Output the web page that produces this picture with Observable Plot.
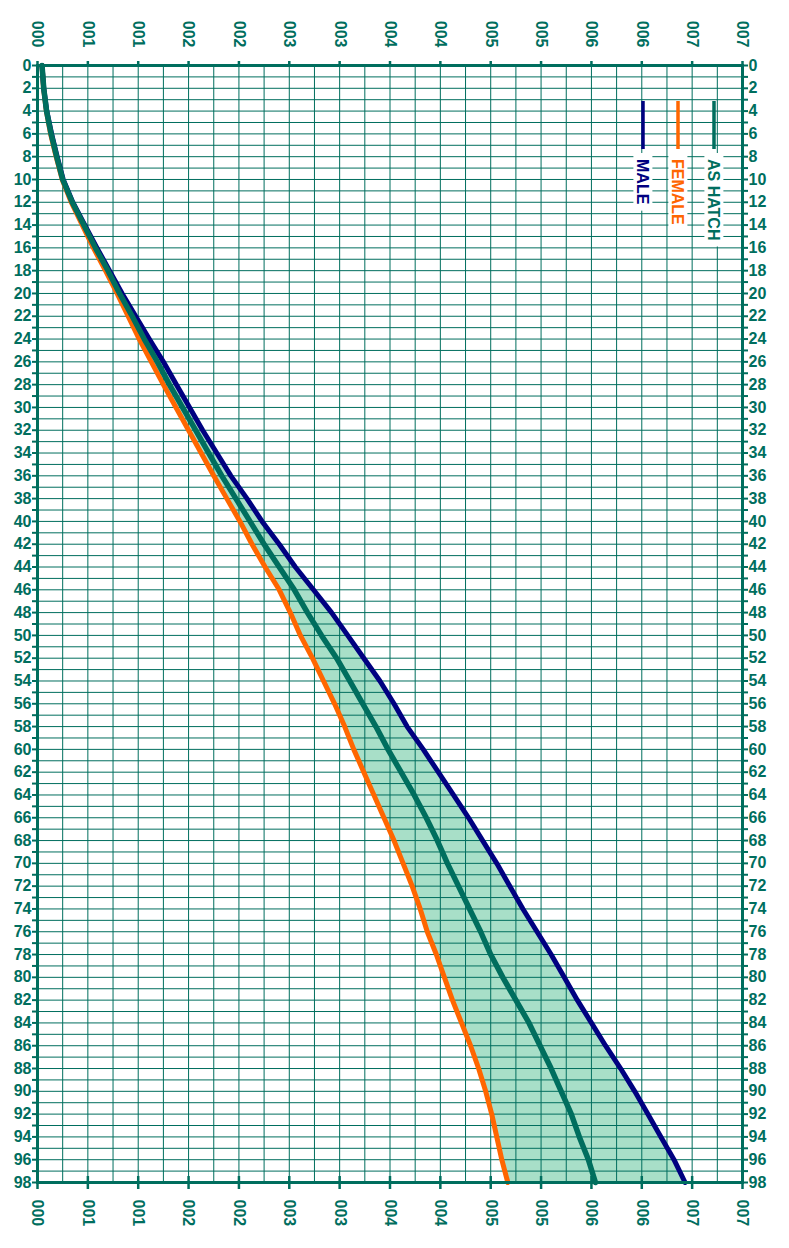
<!DOCTYPE html>
<html>
<head>
<meta charset="utf-8">
<script src="https://cdn.jsdelivr.net/npm/d3@7"></script>
<script src="https://cdn.jsdelivr.net/npm/@observablehq/plot@0.6"></script>
<style>
  html, body { margin: 0; padding: 0; background: #fff; }
  svg { display: block; }
</style>
</head>
<body>
<div id="chart"></div>
<script>
// Age in days
const days = [0,2,4,6,8,10,12,14,16,18,20,22,24,26,28,30,32,34,36,38,40,42,44,46,48,50,52,54,56,58,60,62,64,66,68,70,72,74,76,78,80,82,84,86,88,90,92,94,96,98];
// Weight curves
const asHatch = [0.045,0.062,0.09,0.135,0.19,0.25,0.345,0.46,0.575,0.70,0.815,0.94,1.06,1.19,1.31,1.44,1.57,1.70,1.83,1.97,2.11,2.25,2.40,2.55,2.68,2.82,2.97,3.10,3.23,3.36,3.48,3.61,3.74,3.86,3.97,4.07,4.18,4.29,4.40,4.50,4.62,4.75,4.88,4.99,5.10,5.20,5.30,5.38,5.47,5.54];
const female = [0.045,0.06,0.088,0.13,0.185,0.245,0.335,0.445,0.555,0.675,0.79,0.90,1.01,1.13,1.25,1.375,1.50,1.625,1.75,1.88,2.01,2.13,2.26,2.40,2.51,2.61,2.73,2.84,2.95,3.05,3.14,3.24,3.34,3.44,3.54,3.63,3.72,3.80,3.87,3.96,4.04,4.12,4.21,4.30,4.38,4.45,4.51,4.56,4.61,4.67];
const male = [0.045,0.062,0.092,0.14,0.195,0.255,0.35,0.47,0.59,0.715,0.84,0.975,1.11,1.25,1.38,1.51,1.64,1.78,1.92,2.08,2.23,2.40,2.56,2.74,2.92,3.08,3.24,3.40,3.54,3.67,3.83,3.98,4.13,4.28,4.42,4.56,4.69,4.82,4.96,5.10,5.23,5.36,5.50,5.64,5.79,5.93,6.06,6.19,6.32,6.43];

// Tick values and labels
const xTicks = [0,0.5,1,1.5,2,2.5,3,3.5,4,4.5,5,5.5,6,6.5,7];
const xTickLabels = ["000","001","001","002","002","003","003","004","004","005","005","006","006","007","007"];
const xGrid = d3.range(0, 7.001, 0.25);
const yTicksAll = d3.range(0, 99, 1);
const yLabelled = [0,2,4,6,8,10,12,14,16,18,20,22,24,26,28,30,32,34,36,38,40,42,44,46,48,50,52,54,56,58,60,62,64,66,68,70,72,74,76,78,80,82,84,86,88,90,92,94,96,98];

const legendNames = ["MALE", "FEMALE", "AS HATCH"];

const teal = "#006e5e";
const orange = "#ff6600";
const navy = "#000080";
const band = "#a8dfc8";
const legendColors = [navy, orange, teal];

const rows = days.map((d, i) => ({day: d, hatch: asHatch[i], female: female[i], male: male[i]}));
const labelSet = new Set(yLabelled);
const fmtY = d => labelSet.has(d) ? String(d) : "";

const chart = Plot.plot({
  width: 789,
  height: 1248,
  marginTop: 65,
  marginBottom: 66,
  marginLeft: 37,
  marginRight: 47,
  x: {domain: [0, 7], label: null},
  y: {domain: [0, 98], reverse: true, label: null},
  style: {fontFamily: "'Liberation Sans', Arial, sans-serif", color: teal, background: "#fff"},
  marks: [
    Plot.areaX(rows, {y: "day", x1: "female", x2: "male", fill: band}),
    Plot.gridX({ticks: xGrid, stroke: teal, strokeOpacity: 1, strokeWidth: 1}),
    Plot.gridY({ticks: yTicksAll, stroke: teal, strokeOpacity: 1, strokeWidth: 1}),
    Plot.line(rows, {x: "female", y: "day", stroke: orange, strokeWidth: 5, strokeLinejoin: "round"}),
    Plot.line(rows, {x: "male", y: "day", stroke: navy, strokeWidth: 5, strokeLinejoin: "round"}),
    Plot.line(rows, {x: "hatch", y: "day", stroke: teal, strokeWidth: 5.5, strokeLinejoin: "round"}),
    Plot.frame({stroke: teal, strokeWidth: 3}),
    Plot.axisX({anchor: "top", ticks: xTicks, tickSize: 5, strokeWidth: 2.5, tickFormat: () => "", label: null}),
    Plot.axisX({anchor: "bottom", ticks: xTicks, tickSize: 13, dy: -6, strokeWidth: 2.5, tickFormat: () => "", label: null}),
    Plot.text(xTicks, {x: d => d, text: (d, i) => xTickLabels[i], frameAnchor: "top", dy: -18, rotate: 90,
      textAnchor: "end", lineAnchor: "middle", fontSize: 16, fontWeight: "bold", fill: teal}),
    Plot.text(xTicks, {x: d => d, text: (d, i) => xTickLabels[i], frameAnchor: "bottom", dy: 17, rotate: 90,
      textAnchor: "start", lineAnchor: "middle", fontSize: 16, fontWeight: "bold", fill: teal}),
    Plot.axisY({anchor: "left", ticks: yTicksAll, tickSize: 5, tickPadding: 1, strokeWidth: 2,
      tickFormat: fmtY, fontSize: 16, fontWeight: "bold", fill: teal, label: null}),
    Plot.axisY({anchor: "right", ticks: yTicksAll, tickSize: 5, tickPadding: 1, strokeWidth: 2,
      tickFormat: fmtY, fontSize: 16, fontWeight: "bold", fill: teal, label: null})
  ]
});

document.getElementById("chart").append(chart);

// Legend inside the frame, near its top-right corner
const svgSel = d3.select(chart);
const xRange = chart.scale("x").range, yRange = chart.scale("y").range;
const frameRight = Math.max(...xRange), frameTop = Math.min(...yRange);
const legendOffsets = [99, 64, 28];
const legendG = svgSel.append("g")
  .attr("font-family", "'Liberation Sans', Arial, sans-serif")
  .attr("text-anchor", "start");
legendNames.forEach((name, i) => {
  const cx = frameRight - legendOffsets[i];
  legendG.append("line")
    .attr("x1", cx).attr("x2", cx)
    .attr("y1", frameTop + 36).attr("y2", frameTop + 84)
    .attr("stroke", legendColors[i]).attr("stroke-width", 3.5);
  const lg = legendG.append("g").attr("transform", `translate(${cx},${frameTop + 94}) rotate(90)`);
  const rect = lg.append("rect").attr("fill", "#fff");
  const t = lg.append("text")
    .attr("x", 0).attr("y", 0).attr("dy", "0.35em")
    .attr("text-anchor", "start")
    .attr("fill", legendColors[i]).attr("font-size", 16).attr("font-weight", "bold")
    .text(name);
  const bb = t.node().getBBox();
  rect.attr("x", bb.x - 6).attr("y", bb.y - 1).attr("width", bb.width + 12).attr("height", bb.height + 2);
});
</script>
</body>
</html>
